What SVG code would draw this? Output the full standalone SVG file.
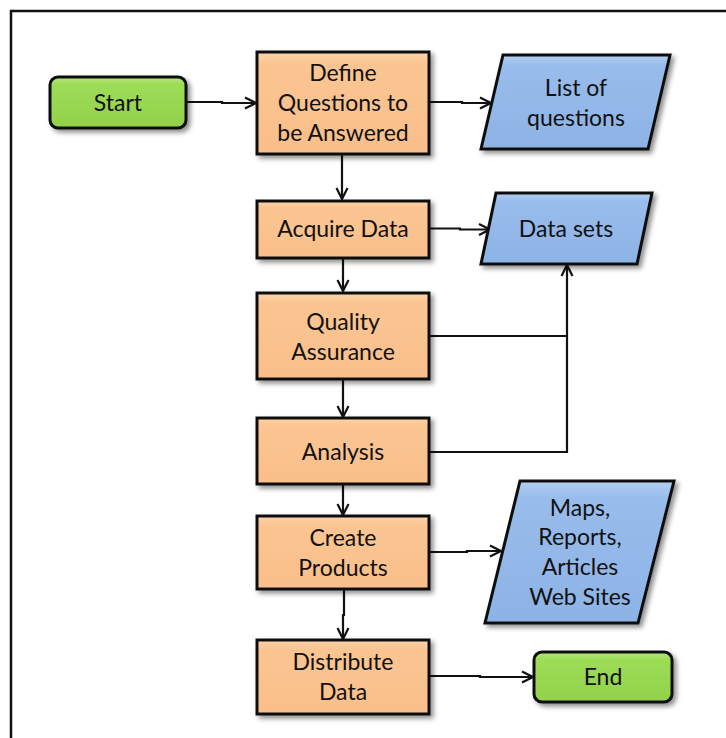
<svg xmlns="http://www.w3.org/2000/svg" width="726" height="738" viewBox="0 0 726 738">
  <defs>
    <linearGradient id="gOrange" x1="0" y1="0" x2="0" y2="1">
      <stop offset="0" stop-color="#FDD3A8"/>
      <stop offset="0.12" stop-color="#FBC592"/>
      <stop offset="1" stop-color="#F9BF8A"/>
    </linearGradient>
    <linearGradient id="gGreen" x1="0" y1="0" x2="0" y2="1">
      <stop offset="0" stop-color="#B4E77E"/>
      <stop offset="0.15" stop-color="#9DDC56"/>
      <stop offset="1" stop-color="#92D24B"/>
    </linearGradient>
    <linearGradient id="gBlue" x1="0" y1="0" x2="0" y2="1">
      <stop offset="0" stop-color="#B3CEF2"/>
      <stop offset="0.12" stop-color="#98BCEB"/>
      <stop offset="1" stop-color="#8DB3E6"/>
    </linearGradient>
    <filter id="shadow" x="-10%" y="-10%" width="130%" height="140%">
      <feGaussianBlur in="SourceAlpha" stdDeviation="2.5"/>
      <feOffset dx="3" dy="3" result="b"/>
      <feComponentTransfer><feFuncA type="linear" slope="0.45"/></feComponentTransfer>
      <feMerge><feMergeNode/><feMergeNode in="SourceGraphic"/></feMerge>
    </filter>
    <marker id="arrow" viewBox="0 0 14 14" refX="13" refY="7" markerWidth="14" markerHeight="14" markerUnits="userSpaceOnUse" orient="auto">
      <path d="M2,1.5 L13,7 L2,12.5" fill="none" stroke="#111" stroke-width="2.2"/>
    </marker>
  </defs>
  <style>
    .proc { fill: url(#gOrange); stroke: #111; stroke-width: 3; filter: url(#shadow); }
    .term { fill: url(#gGreen); stroke: #111; stroke-width: 3; filter: url(#shadow); }
    .data { fill: url(#gBlue); stroke: #111; stroke-width: 3; filter: url(#shadow); }
    .lbl { font-family: Lato, "Open Sans", "Liberation Sans", sans-serif; font-size: 23px; fill: #111; text-anchor: middle; }
    .conn { fill: none; stroke: #111; stroke-width: 2.2; }
    .arr { marker-end: url(#arrow); }
  </style>

  <rect width="726" height="738" fill="#fff"/>
  <!-- page frame -->
  <path d="M11,740 V11 H730" fill="none" stroke="#111" stroke-width="2.5"/>

  <g id="connectors">
    <path class="conn arr" d="M187,102 H222 V103 H256"/>
    <path class="conn arr" d="M429,102 H462 V103 H491"/>
    <path class="conn arr" d="M342,154 V199"/>
    <path class="conn arr" d="M429,228.5 H460 V229.5 H490"/>
    <path class="conn arr" d="M343,258 V291"/>
    <path class="conn arr" d="M343,379 V417"/>
    <path class="conn" d="M429,336 H567"/>
    <path class="conn arr" d="M429,452 H567 V265"/>
    <path class="conn arr" d="M343,484 V515"/>
    <path class="conn arr" d="M429,552 H467 V551 H501"/>
    <path class="conn arr" d="M344,589 V615 H343 V639"/>
    <path class="conn arr" d="M429,676 H480 V677 H533"/>
  </g>

  <g id="start">
    <rect class="term" x="50" y="77" width="136" height="51" rx="8"/>
    <text class="lbl" x="118" y="111">Start</text>
  </g>
  <g id="define">
    <rect class="proc" x="257" y="52" width="172" height="102"/>
    <text class="lbl" x="343" y="81">Define</text>
    <text class="lbl" x="343" y="111">Questions to</text>
    <text class="lbl" x="343" y="141">be Answered</text>
  </g>
  <g id="list">
    <polygon class="data" points="503,55 670,55 648,149 481,149"/>
    <text class="lbl" x="576" y="96">List of</text>
    <text class="lbl" x="576" y="126">questions</text>
  </g>
  <g id="acquire">
    <rect class="proc" x="257" y="201" width="172" height="57"/>
    <text class="lbl" x="343" y="237">Acquire Data</text>
  </g>
  <g id="datasets">
    <polygon class="data" points="496,193 652,193 637,264 481,264"/>
    <text class="lbl" x="566" y="237">Data sets</text>
  </g>
  <g id="quality">
    <rect class="proc" x="257" y="293" width="172" height="86"/>
    <text class="lbl" x="343" y="330">Quality</text>
    <text class="lbl" x="343" y="360">Assurance</text>
  </g>
  <g id="analysis">
    <rect class="proc" x="257" y="418" width="172" height="66"/>
    <text class="lbl" x="343" y="460">Analysis</text>
  </g>
  <g id="create">
    <rect class="proc" x="257" y="516" width="172" height="73"/>
    <text class="lbl" x="343" y="546">Create</text>
    <text class="lbl" x="343" y="576">Products</text>
  </g>
  <g id="products">
    <polygon class="data" points="520,481 674,481 638,623 485,623"/>
    <text class="lbl" x="580" y="516">Maps,</text>
    <text class="lbl" x="580" y="545">Reports,</text>
    <text class="lbl" x="580" y="575">Articles</text>
    <text class="lbl" x="580" y="605">Web Sites</text>
  </g>
  <g id="distribute">
    <rect class="proc" x="257" y="640" width="172" height="74"/>
    <text class="lbl" x="343" y="670">Distribute</text>
    <text class="lbl" x="343" y="700">Data</text>
  </g>
  <g id="end">
    <rect class="term" x="534" y="652" width="138" height="50" rx="8"/>
    <text class="lbl" x="603" y="685">End</text>
  </g>
</svg>
